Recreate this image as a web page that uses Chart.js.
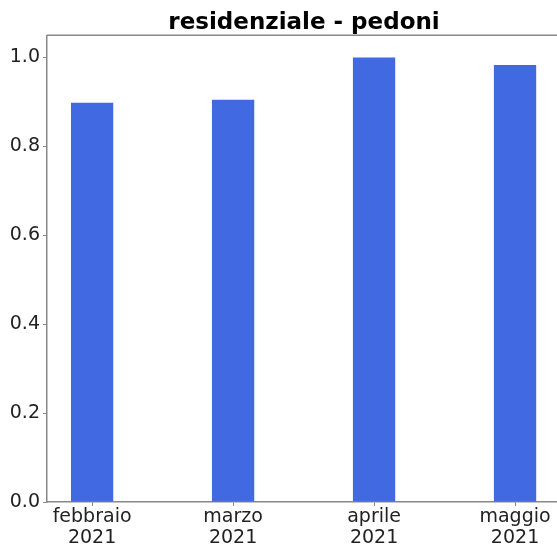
<!DOCTYPE html>
<html>
<head>
<meta charset="utf-8">
<script src="https://cdn.jsdelivr.net/npm/chart.js@4/dist/chart.umd.min.js"></script>
<style>
  html, body { margin: 0; padding: 0; background: #fff; overflow: hidden; }
  #wrap { width: 557px; height: 546px; overflow: hidden; }
</style>
</head>
<body>
<div id="wrap"><canvas id="chart" width="561" height="546"></canvas></div>
<script>
const months = [["febbraio", "2021"], ["marzo", "2021"], ["aprile", "2021"], ["maggio", "2021"]];
const values = [0.898, 0.905, 1.0, 0.983];
const yTicks = [0.0, 0.2, 0.4, 0.6, 0.8, 1.0];

const points = values.map((v, i) => ({ x: i, y: v }));

const ctx = document.getElementById("chart").getContext("2d");
new Chart(ctx, {
    type: "bar",
    data: {
        datasets: [{
            label: "pedoni",
            data: points,
            backgroundColor: "#4169E1",
            borderWidth: 0,
            categoryPercentage: 1.0,
            barPercentage: 0.3
        }]
    },
    options: {
        responsive: false,
        animation: false,
        layout: { padding: { left: 0, right: 0, top: 0, bottom: 0 } },
        plugins: {
            legend: { display: false },
            tooltip: { enabled: false },
            title: {
                display: true,
                fullSize: false,
                text: "residenziale - pedoni",
                color: "#000",
                font: { family: "DejaVu Sans", size: 23, weight: "bold", lineHeight: 1.1 },
                padding: { top: 10, bottom: 0 }
            }
        },
        scales: {
            x: {
                type: "linear",
                offset: false,
                min: -0.32,
                max: 3.326,
                afterBuildTicks: axis => {
                    axis.ticks = months.map((m, i) => ({ value: i }));
                },
                afterFit: axis => { axis.height = 44; },
                ticks: {
                    color: "#222",
                    font: { family: "DejaVu Sans", size: 19, lineHeight: 1.1 },
                    padding: 1,
                    maxRotation: 0,
                    autoSkip: false,
                    callback: (v) => months[v] || ""
                },
                grid: {
                    display: true,
                    offset: false,
                    drawOnChartArea: false,
                    drawTicks: true,
                    tickLength: 4,
                    color: "#888"
                },
                border: { display: true, color: "#888", width: 1.5 }
            },
            y: {
                min: 0,
                max: 1.05,
                afterBuildTicks: axis => {
                    axis.ticks = yTicks.map(v => ({ value: v }));
                },
                afterFit: axis => { axis.width = 47; },
                ticks: {
                    color: "#222",
                    font: { family: "DejaVu Sans", size: 19 },
                    padding: 3,
                    callback: v => v.toFixed(1)
                },
                grid: {
                    display: true,
                    drawOnChartArea: false,
                    drawTicks: true,
                    tickLength: 4,
                    color: "#888"
                },
                border: { display: true, color: "#888", width: 1.5 }
            }
        }
    },
    plugins: [{
        id: "topSpine",
        afterDraw(chart) {
            const a = chart.chartArea;
            const c = chart.ctx;
            c.save();
            c.strokeStyle = "#888";
            c.lineWidth = 1.5;
            c.beginPath();
            c.moveTo(a.left, a.top);
            c.lineTo(a.right, a.top);
            c.stroke();
            c.restore();
        }
    }]
});
</script>
</body>
</html>
